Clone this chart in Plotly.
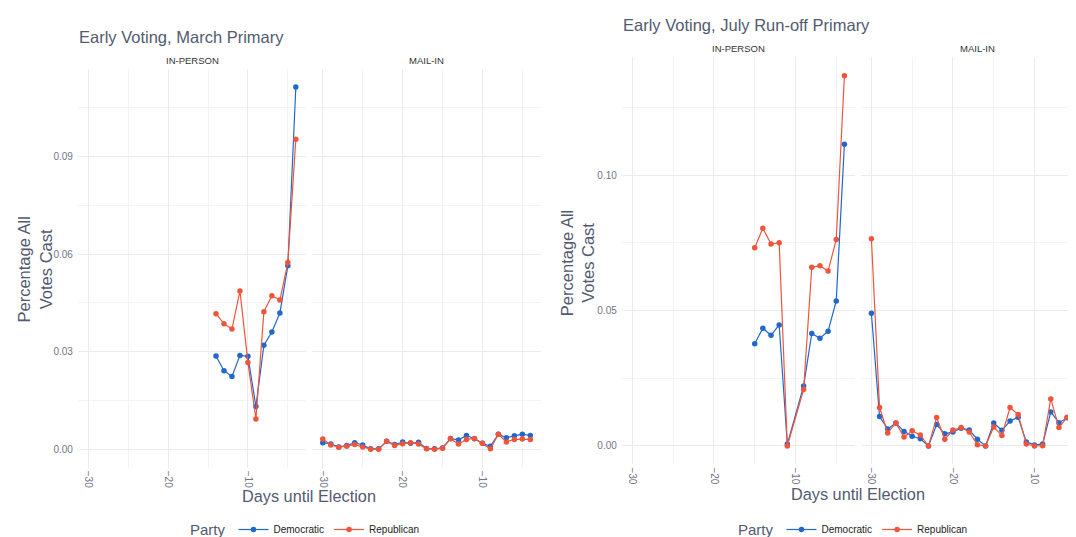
import plotly.graph_objects as go

W, H = 1076, 537

# ---------------- data ----------------
# March Primary
mar_inperson_days = [-14, -13, -12, -11, -10, -9, -8, -7, -6, -5, -4]
mar_inperson_dem = [0.0287, 0.0242, 0.0224, 0.0289, 0.0286, 0.0132, 0.0320, 0.0361, 0.0419, 0.0564, 0.1113]
mar_inperson_rep = [0.0417, 0.0386, 0.0370, 0.0487, 0.0267, 0.0094, 0.0423, 0.0472, 0.0459, 0.0574, 0.0953]

mar_mail_days = list(range(-30, -3))
mar_mail_dem = [0.0021, 0.0017, 0.0008, 0.0012, 0.0021, 0.0014, 0.0002, 0.0002, 0.0025, 0.0015,
                0.0023, 0.0019, 0.0022, 0.0003, 0.0002, 0.0005, 0.0034, 0.0029, 0.0043, 0.0033,
                0.0019, 0.0010, 0.0047, 0.0036, 0.0042, 0.0047, 0.0043]
mar_mail_rep = [0.0032, 0.0014, 0.0007, 0.0010, 0.0015, 0.0008, 0.0001, 0.0001, 0.0025, 0.0012,
                0.0018, 0.0021, 0.0017, 0.0002, 0.0001, 0.0004, 0.0033, 0.0017, 0.0031, 0.0034,
                0.0019, 0.0002, 0.0047, 0.0023, 0.0031, 0.0032, 0.0031]

# July Run-off Primary
jul_inperson_days = [-15, -14, -13, -12, -11, -9, -8, -7, -6, -5, -4]
jul_inperson_dem = [0.0378, 0.0435, 0.0409, 0.0447, 0.0007, 0.0222, 0.0416, 0.0398, 0.0424, 0.0536, 0.1115]
jul_inperson_rep = [0.0732, 0.0804, 0.0746, 0.0751, 0.0000, 0.0209, 0.0660, 0.0666, 0.0646, 0.0763, 0.1368]

jul_mail_days = list(range(-30, -3))
jul_mail_dem = [0.0490, 0.0109, 0.0063, 0.0085, 0.0054, 0.0036, 0.0027, 0.0000, 0.0079, 0.0045,
                0.0052, 0.0066, 0.0059, 0.0025, 0.0000, 0.0085, 0.0058, 0.0092, 0.0106, 0.0015,
                0.0004, 0.0007, 0.0126, 0.0086, 0.0104, 0.0091, 0.0074]
jul_mail_rep = [0.0766, 0.0142, 0.0048, 0.0085, 0.0033, 0.0056, 0.0041, 0.0000, 0.0105, 0.0025,
                0.0059, 0.0068, 0.0052, 0.0005, 0.0000, 0.0070, 0.0039, 0.0142, 0.0116, 0.0007,
                0.0000, 0.0001, 0.0174, 0.0068, 0.0106, 0.0102, 0.0063]

parties = ["Democratic", "Republican"]
party_colors = {"Democratic": "#1f68cc", "Republican": "#f0553c"}

titles = ["Early Voting, March Primary", "Early Voting, July Run-off Primary"]
facets = ["IN-PERSON", "MAIL-IN"]
x_title = "Days until Election"
y_title = "Percentage All<br>Votes Cast"

# ---------------- styling ----------------
FONT = "Liberation Sans, Arial, sans-serif"
SLATE = "#525a70"
TICK = "#6f7486"
GRID = "#ebebeb"
MINOR = "#f3f3f3"


def px_x(p):
    return p / W


def px_y(p):
    return 1 - p / H


fig = go.Figure()

panels = [
    # (x axis id, y axis id, days, dem, rep, legend, showlegend)
    ("x", "y", mar_inperson_days, mar_inperson_dem, mar_inperson_rep, "legend", True),
    ("x2", "y2", mar_mail_days, mar_mail_dem, mar_mail_rep, "legend", False),
    ("x3", "y3", jul_inperson_days, jul_inperson_dem, jul_inperson_rep, "legend2", True),
    ("x4", "y4", jul_mail_days, jul_mail_dem, jul_mail_rep, "legend2", False),
]

for xa, ya, days, dem, rep, leg, show in panels:
    for party, vals in zip(parties, [dem, rep]):
        fig.add_trace(go.Scatter(
            x=days, y=vals, mode="lines+markers", name=party,
            line=dict(color=party_colors[party], width=1.2),
            marker=dict(color=party_colors[party], size=5.5),
            xaxis=xa, yaxis=ya, legend=leg, showlegend=show,
        ))

# axis domains (pixels)
left_in = (69.9, 298.2)
left_mail = (304.4, 532.7)
right_in = (613.8, 847.0)
right_mail = (852.8, 1076.0)
left_y = (61.7, 466.7)
right_y = (50.0, 463.3)

xr = [-31.3, -2.7]
xr_cut = [-31.3, -31.3 + (right_mail[1] - right_mail[0]) / ((right_in[1] - right_in[0]) / 28.6)]


def xaxis(dom, rng, anchor):
    return dict(
        domain=[px_x(dom[0]), px_x(dom[1])], range=rng, anchor=anchor,
        tickmode="linear", tick0=-30, dtick=10, tickangle=90,
        showgrid=True, gridcolor=GRID, gridwidth=1.1, zeroline=False,
        showline=False, ticks="", ticklabelstandoff=2,
        tickfont=dict(family=FONT, size=10, color=TICK),
        minor=dict(tick0=-30, dtick=5, showgrid=True, gridcolor=MINOR, gridwidth=1),
    )


def yaxis(dom, rng, dtick, anchor, labels):
    return dict(
        domain=[px_y(dom[1]), px_y(dom[0])], range=rng, anchor=anchor,
        tickmode="linear", tick0=0, dtick=dtick, tickformat=".2f",
        showgrid=True, gridcolor=GRID, gridwidth=1.1, zeroline=False,
        showline=False, ticks="", showticklabels=labels, ticklabelstandoff=4,
        tickfont=dict(family=FONT, size=10, color=TICK),
        minor=dict(tick0=0, dtick=dtick / 2, showgrid=True, gridcolor=MINOR, gridwidth=1),
    )


def legend_cfg(x_px):
    return dict(
        orientation="h", x=px_x(x_px), xanchor="left", y=px_y(530), yanchor="middle",
        title=dict(text="Party", side="left", font=dict(family=FONT, size=15, color=SLATE)),
        font=dict(family=FONT, size=10, color="#222222"), bgcolor="rgba(0,0,0,0)",
        itemwidth=30, tracegroupgap=0,
    )


fig.update_layout(
    width=W, height=H, autosize=False,
    margin=dict(l=0, r=0, t=0, b=0),
    paper_bgcolor="white", plot_bgcolor="white",
    font=dict(family=FONT, color=SLATE),
    xaxis=xaxis(left_in, xr, "y"),
    xaxis2=xaxis(left_mail, xr, "y2"),
    xaxis3=xaxis(right_in, xr, "y3"),
    xaxis4=xaxis(right_mail, xr_cut, "y4"),
    yaxis=yaxis(left_y, [-0.0056, 0.1169], 0.03, "x", True),
    yaxis2=yaxis(left_y, [-0.0056, 0.1169], 0.03, "x2", False),
    yaxis3=yaxis(right_y, [-0.0068, 0.1436], 0.05, "x3", True),
    yaxis4=yaxis(right_y, [-0.0068, 0.1436], 0.05, "x4", False),
    legend=legend_cfg(180),
    legend2=legend_cfg(728),
    showlegend=True,
)

ann = []
# chart titles
ann.append(dict(text=titles[0], x=px_x(69), y=px_y(29), xanchor="left", yanchor="middle",
                font=dict(family=FONT, size=16.5, color=SLATE)))
ann.append(dict(text=titles[1], x=px_x(613), y=px_y(17), xanchor="left", yanchor="middle",
                font=dict(family=FONT, size=16.5, color=SLATE)))
# strip labels
for cx, cy, lab in [((left_in[0] + left_in[1]) / 2, 53, facets[0]),
                    ((left_mail[0] + left_mail[1]) / 2, 53, facets[1]),
                    ((right_in[0] + right_in[1]) / 2, 41, facets[0]),
                    (969.9, 41, facets[1])]:
    ann.append(dict(text=lab, x=px_x(cx), y=px_y(cy), xanchor="center", yanchor="middle",
                    font=dict(family=FONT, size=9.5, color="#333333")))
# y axis titles
ann.append(dict(text=y_title, x=px_x(26.5), y=px_y(266), textangle=-90, xanchor="center",
                yanchor="middle", font=dict(family=FONT, size=16.5, color=SLATE)))
ann.append(dict(text=y_title, x=px_x(569), y=px_y(259), textangle=-90, xanchor="center",
                yanchor="middle", font=dict(family=FONT, size=16.5, color=SLATE)))
# x axis titles
ann.append(dict(text=x_title, x=px_x(301), y=px_y(495), xanchor="center", yanchor="middle",
                font=dict(family=FONT, size=16.3, color=SLATE)))
ann.append(dict(text=x_title, x=px_x(850), y=px_y(493), xanchor="center", yanchor="middle",
                font=dict(family=FONT, size=16.3, color=SLATE)))

for a in ann:
    a.update(xref="paper", yref="paper", showarrow=False)
fig.update_layout(annotations=ann)

fig.write_html("out.html")
